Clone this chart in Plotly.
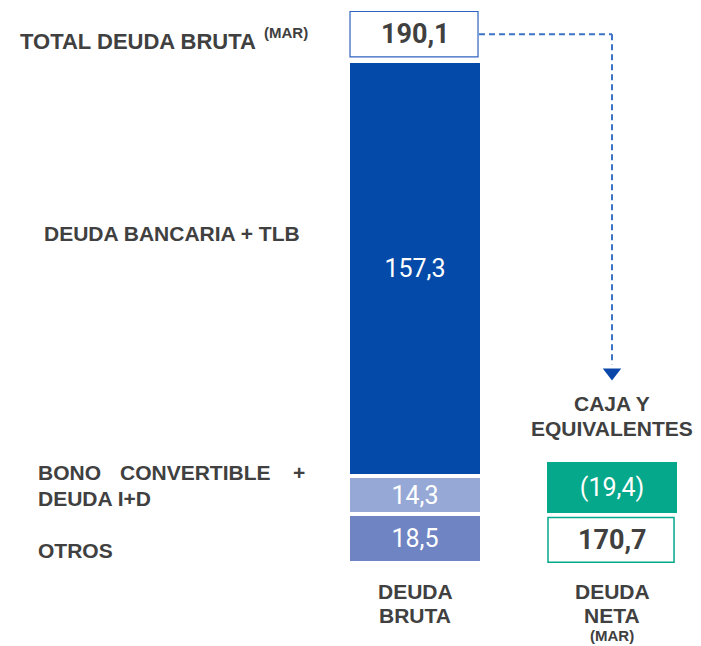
import plotly.graph_objects as go

# ---- data ----
categories = ["DEUDA BRUTA", "DEUDA NETA"]
segment_names = ["OTROS", "BONO CONVERTIBLE + DEUDA I+D", "DEUDA BANCARIA + TLB"]
segment_values = [18.5, 14.3, 157.3]
segment_text = ["18,5", "14,3", "157,3"]
total_bruta = 190.1
total_bruta_text = "190,1"
caja = 19.4
caja_text = "(19,4)"
deuda_neta = 170.7
deuda_neta_text = "170,7"

# ---- style / layout helpers ----
seg_colors = ["#6f84c3", "#96a8d5", "#044aa8"]
green = "#05a88a"
txt = "#404040"
OFF = 8              # page body margin
PX_PER_UNIT = 2.64
BASE_PX = 563        # pixel row of value 0
XC0 = 415.0          # pixel centre of category 0
XSTEP = 197.0        # pixels between categories
BAR_W = 134 / XSTEP
BOX_W = 128 / XSTEP
BOX_H = 17.2
GAP = 1.6
LAB = "Liberation Sans"
NUM = "Roboto"


def xd(p):
    return (p - XC0) / XSTEP


def yd(p):
    return (BASE_PX - p) / PX_PER_UNIT


fig = go.Figure()

# stacked gross-debt bar
for name, v, t, c in zip(segment_names, segment_values, segment_text, seg_colors):
    fig.add_trace(go.Bar(
        x=[0], y=[v], name=name, width=BAR_W,
        marker=dict(color=c, line=dict(color="white", width=4)),
        text=[t], textposition="inside", insidetextanchor="middle",
        textfont=dict(family=NUM, size=25, color="white"),
        hoverinfo="skip", showlegend=False,
    ))

# cash bar (sits above the net-debt box)
fig.add_trace(go.Bar(
    x=[1], y=[caja], base=[BOX_H + GAP], width=130 / XSTEP,
    marker=dict(color=green, line=dict(width=0)),
    text=[caja_text], textposition="inside", insidetextanchor="middle",
    textfont=dict(family=NUM, size=25, color="white"),
    hoverinfo="skip", showlegend=False,
))

shapes = []
annotations = []

# total gross-debt box
tb0 = total_bruta + GAP
tb1 = tb0 + BOX_H
shapes.append(dict(type="rect", xref="x", yref="y",
                   x0=-BOX_W / 2 - 0.005, x1=BOX_W / 2 - 0.005, y0=tb0, y1=tb1,
                   line=dict(color="#2e64c0", width=1.2), fillcolor="white", layer="above"))
annotations.append(dict(x=0, y=(tb0 + tb1) / 2, xref="x", yref="y",
                        text="<b>" + total_bruta_text + "</b>", showarrow=False,
                        font=dict(family=NUM, size=27, color=txt)))

# net-debt box
shapes.append(dict(type="rect", xref="x", yref="y",
                   x0=1 - BOX_W / 2, x1=1 + BOX_W / 2 - 0.01, y0=0.3, y1=BOX_H,
                   line=dict(color=green, width=1.5), fillcolor="white", layer="above"))
annotations.append(dict(x=1, y=BOX_H / 2, xref="x", yref="y",
                        text="<b>" + deuda_neta_text + "</b>", showarrow=False,
                        font=dict(family=NUM, size=27, color=txt)))

# dashed connector + arrow head
ymid = (tb0 + tb1) / 2
caja_top = BOX_H + GAP + caja
arrow_y = caja_top + 34
dash_col = "#3d73c5"
shapes.append(dict(type="line", xref="x", yref="y", x0=BOX_W / 2, x1=1, y0=ymid, y1=ymid,
                   line=dict(color=dash_col, width=2, dash="6px,4px")))
shapes.append(dict(type="line", xref="x", yref="y", x0=1, x1=1, y0=ymid, y1=arrow_y + 3,
                   line=dict(color=dash_col, width=2, dash="6px,4px")))
fig.add_trace(go.Scatter(x=[1], y=[arrow_y], mode="markers",
                         marker=dict(symbol="triangle-down", size=16, color="#0a47a8"),
                         hoverinfo="skip", showlegend=False))


def label(text, xp, yp, size=21, anchor="left"):
    annotations.append(dict(x=xd(xp), y=yd(yp), xref="x", yref="y", xanchor=anchor,
                            yanchor="middle", text="<b>" + text + "</b>", showarrow=False,
                            font=dict(family=LAB, size=size, color=txt)))


# CAJA label
label("CAJA Y", 612, 403, anchor="center")
label("EQUIVALENTES", 612, 428, anchor="center")

# left labels
label("TOTAL DEUDA BRUTA", 18, 41, size=22)
label("(MAR)", 262, 32, size=15)
label("DEUDA BANCARIA + TLB", 42, 233)
label("BONO", 36, 472)
label("CONVERTIBLE", 118, 472)
label("+", 291, 472)
label("DEUDA I+D", 36, 498)
label("OTROS", 36, 550)

# category labels
label("DEUDA", XC0, 591, anchor="center")
label("BRUTA", XC0, 615, anchor="center")
label("DEUDA", XC0 + XSTEP, 591, anchor="center")
label("NETA", XC0 + XSTEP, 615, anchor="center")
label("(MAR)", XC0 + XSTEP, 635, size=15, anchor="center")

fig.update_layout(
    width=701, height=646,
    margin=dict(l=0, r=0, t=0, b=0),
    plot_bgcolor="white", paper_bgcolor="white",
    barmode="stack", bargap=0,
    shapes=shapes, annotations=annotations,
    xaxis=dict(range=[xd(OFF), xd(701 + OFF)], visible=False, fixedrange=True),
    yaxis=dict(range=[yd(646 + OFF), yd(OFF)], visible=False, fixedrange=True),
    uniformtext=dict(mode="show", minsize=10),
)

fig.write_html("out.html")
